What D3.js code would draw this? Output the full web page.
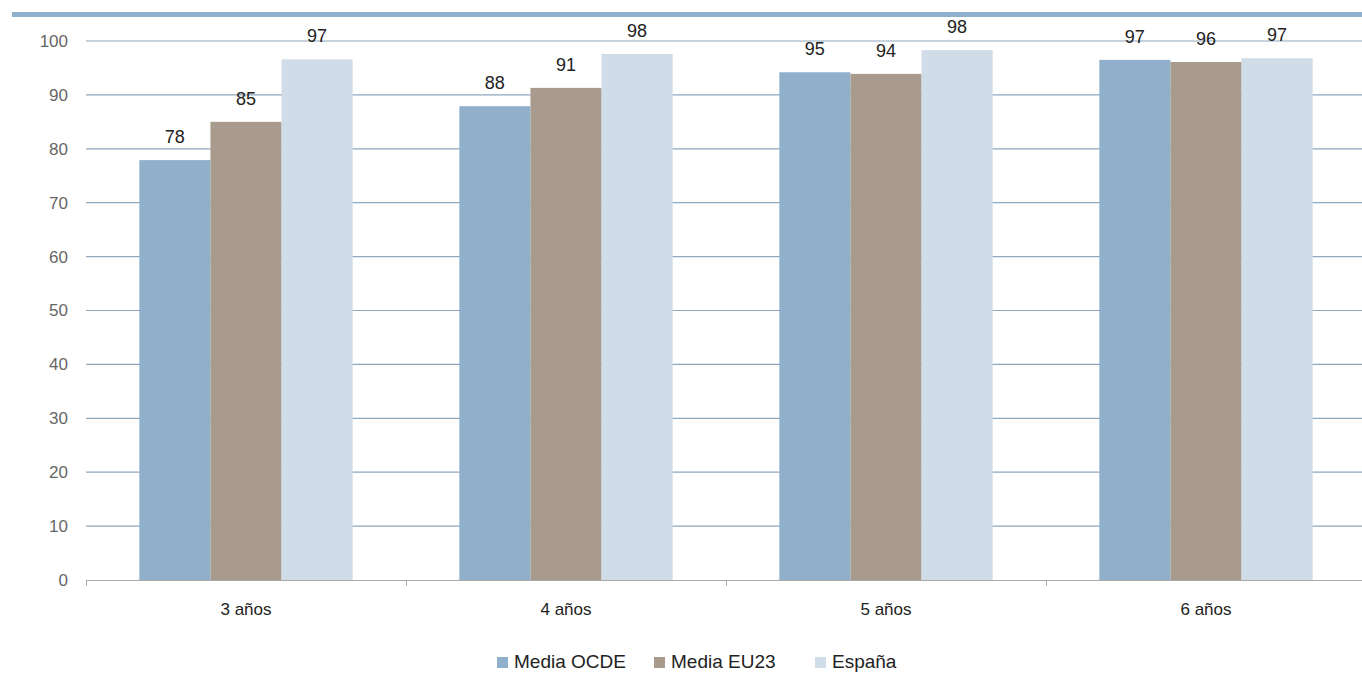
<!DOCTYPE html>
<html><head><meta charset="utf-8">
<script src="https://cdn.jsdelivr.net/npm/d3@7"></script>
<style>body{margin:0;background:#fff}svg{display:block}</style>
</head><body><svg id="c" width="1362" height="674"></svg>
<script>
const categories = ["3 años","4 años","5 años","6 años"];
const seriesNames = ["Media OCDE","Media EU23","España"];
const ocde = [77.9, 87.9, 94.2, 96.5];
const eu23 = [85.0, 91.3, 93.9, 96.1];
const espana = [96.6, 97.6, 98.3, 96.8];
const ocdeLabels = ["78","88","95","97"];
const eu23Labels = ["85","91","94","96"];
const espanaLabels = ["97","98","98","97"];
const yTicks = [0,10,20,30,40,50,60,70,80,90,100];
const colors = ["#8fafcb","#a89a8c","#d0dce8"];

const series = [ocde, eu23, espana];
const seriesLabels = [ocdeLabels, eu23Labels, espanaLabels];
const svg = d3.select("#c");
const font = "'Liberation Sans Narrow','Arial Narrow','Liberation Sans',Arial,sans-serif";

svg.append("rect").attr("x",12).attr("y",12).attr("width",1350).attr("height",5).attr("fill","#8fb0cc");

const x0 = d3.scaleBand().domain(categories).range([86,1366]);
const x1 = d3.scaleBand().domain(seriesNames).range([0,x0.bandwidth()]).paddingInner(0).paddingOuter(0.75);
const y = d3.scaleLinear().domain([0,100]).range([580,41]);

// gridlines
svg.append("g").selectAll("line").data(yTicks.filter(d=>d>0)).join("line")
  .attr("x1",86).attr("x2",1362).attr("y1",d=>y(d)).attr("y2",d=>y(d))
  .attr("stroke","#8ea8c0").attr("stroke-width",1.2);

// y tick labels
svg.append("g").selectAll("text").data(yTicks).join("text")
  .attr("x",68).attr("y",d=>y(d)).attr("dy","0.35em").attr("text-anchor","end")
  .attr("font-family",font).attr("font-size",17).attr("fill","#666").text(d=>d);

// bars
const g = svg.append("g");
categories.forEach((c,i)=>{
  seriesNames.forEach((s,j)=>{
    const v = series[j][i];
    g.append("rect").attr("x",x0(c)+x1(s)).attr("y",y(v)).attr("width",x1.bandwidth()).attr("height",y(0)-y(v)).attr("fill",colors[j]);
    g.append("text").attr("x",x0(c)+x1(s)+x1.bandwidth()/2).attr("y",y(v)-17).attr("text-anchor","middle")
      .attr("font-family",font).attr("font-size",18).attr("fill","#222").text(seriesLabels[j][i]);
  });
});

// x axis
svg.append("line").attr("x1",86).attr("x2",1362).attr("y1",580.5).attr("y2",580.5).attr("stroke","#aaa").attr("stroke-width",1.2);
svg.append("g").selectAll("line").data(categories).join("line")
  .attr("x1",d=>x0(d)+0.5).attr("x2",d=>x0(d)+0.5).attr("y1",580).attr("y2",586).attr("stroke","#aaa");
svg.append("g").selectAll("text").data(categories).join("text")
  .attr("x",d=>x0(d)+x0.bandwidth()/2).attr("y",615).attr("text-anchor","middle")
  .attr("font-family",font).attr("font-size",17).attr("fill","#222").text(d=>d);

// legend
const legendSq = [497, 654, 815];
const lg = svg.append("g");
seriesNames.forEach((s,j)=>{
  lg.append("rect").attr("x",legendSq[j]).attr("y",657).attr("width",11).attr("height",11).attr("fill",colors[j]);
  lg.append("text").attr("x",legendSq[j]+17).attr("y",668).attr("font-family",font).attr("font-size",19).attr("fill","#222").text(s);
});
</script></body></html>
